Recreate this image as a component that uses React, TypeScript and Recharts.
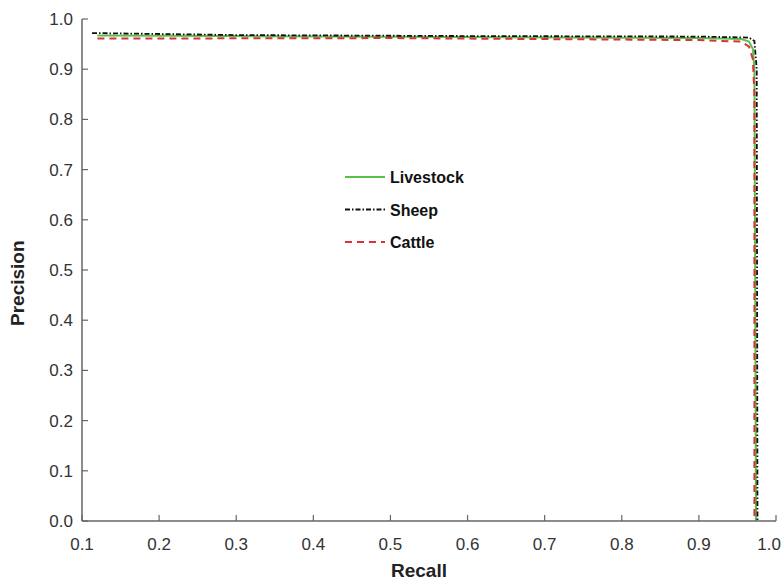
import React from "react";
import { LineChart, Line, XAxis, YAxis } from "recharts";

const xTicks = [0.1, 0.2, 0.3, 0.4, 0.5, 0.6, 0.7, 0.8, 0.9, 1.0];
const yTicks = [0, 0.1, 0.2, 0.3, 0.4, 0.5, 0.6, 0.7, 0.8, 0.9, 1.0];

const livestock = [
  { r: 0.12, p: 0.967 },
  { r: 0.3, p: 0.966 },
  { r: 0.6, p: 0.964 },
  { r: 0.9, p: 0.962 },
  { r: 0.955, p: 0.96 },
  { r: 0.965, p: 0.955 },
  { r: 0.97, p: 0.94 },
  { r: 0.972, p: 0.9 },
  { r: 0.973, p: 0.5 },
  { r: 0.974, p: 0.0 },
];
const sheep = [
  { r: 0.113, p: 0.972 },
  { r: 0.3, p: 0.968 },
  { r: 0.6, p: 0.966 },
  { r: 0.9, p: 0.965 },
  { r: 0.965, p: 0.963 },
  { r: 0.972, p: 0.956 },
  { r: 0.975, p: 0.9 },
  { r: 0.976, p: 0.0 },
];
const cattle = [
  { r: 0.12, p: 0.961 },
  { r: 0.5, p: 0.962 },
  { r: 0.9, p: 0.958 },
  { r: 0.955, p: 0.955 },
  { r: 0.965, p: 0.945 },
  { r: 0.97, p: 0.92 },
  { r: 0.972, p: 0.85 },
  { r: 0.972, p: 0.0 },
];

const series = [
  { name: "Livestock", data: livestock, color: "#5cbf4a", dash: undefined as string | undefined, width: 2 },
  { name: "Sheep", data: sheep, color: "#111111", dash: "5 2 1.5 2", width: 1.8 },
  { name: "Cattle", data: cattle, color: "#d8333a", dash: "7 5", width: 2 },
];

const FONT = "'Liberation Sans', Arial, sans-serif";

const YTick = (props: any) => {
  const { x, y, payload } = props;
  return (
    <g>
      <line x1={x} x2={x + 6} y1={y} y2={y} stroke="#666" strokeWidth={1.2} />
      <text x={x - 9} y={y} dy={6} textAnchor="end" fontSize={17} fill="#333" fontFamily={FONT}>
        {payload.value.toFixed(1)}
      </text>
    </g>
  );
};

const XTick = (props: any) => {
  const { x, y, payload } = props;
  const isLast = payload.value >= 1.0;
  return (
    <g>
      <line x1={x} x2={x} y1={y} y2={y - 6} stroke="#666" strokeWidth={1.2} />
      <text x={isLast ? x + 5 : x} y={y + 29} textAnchor={isLast ? "end" : "middle"} fontSize={17} fill="#333" fontFamily={FONT}>
        {payload.value.toFixed(1)}
      </text>
    </g>
  );
};

export default function App() {
  return (
    <div style={{ position: "absolute", left: 0, top: 0, width: 784, height: 581, background: "#fff" }}>
      <LineChart width={784} height={581} margin={{ top: 19, right: 8, bottom: 0, left: 0 }}>
        <XAxis
          type="number"
          dataKey="r"
          domain={[0.1, 1.0]}
          ticks={xTicks}
          allowDataOverflow
          height={60}
          tickSize={0}
          tickMargin={0}
          tickLine={false}
          tick={<XTick />}
          axisLine={{ stroke: "#666", strokeWidth: 1.5 }}
          label={{ value: "Recall", position: "insideBottom", offset: 4, dx: -10, fontSize: 19, fontWeight: "bold", fill: "#222", fontFamily: FONT }}
        />
        <YAxis
          type="number"
          dataKey="p"
          domain={[0, 1.0]}
          ticks={yTicks}
          allowDataOverflow
          width={82}
          tickSize={0}
          tickMargin={0}
          tickLine={false}
          tick={<YTick />}
          axisLine={{ stroke: "#666", strokeWidth: 1.5 }}
          label={{ value: "Precision", angle: -90, position: "insideLeft", offset: 17, dy: 56, fontSize: 19, fontWeight: "bold", fill: "#222", fontFamily: FONT }}
        />
        {series.map((s) => (
          <Line
            key={s.name}
            name={s.name}
            data={s.data}
            dataKey="p"
            type="linear"
            stroke={s.color}
            strokeWidth={s.width}
            strokeDasharray={s.dash}
            dot={false}
            activeDot={false}
            isAnimationActive={false}
          />
        ))}
      </LineChart>
      <svg width={140} height={100} style={{ position: "absolute", left: 340, top: 161, overflow: "visible" }}>
        {series.map((s, i) => (
          <g key={s.name}>
            <line
              x1={5}
              x2={45}
              y1={16 + i * 32.5}
              y2={16 + i * 32.5}
              stroke={s.color}
              strokeWidth={s.width}
              strokeDasharray={s.dash}
            />
            <text x={50} y={16 + i * 32.5} dy={6} fontSize={16} fontWeight="bold" fill="#111" fontFamily={FONT}>
              {s.name}
            </text>
          </g>
        ))}
      </svg>
    </div>
  );
}
